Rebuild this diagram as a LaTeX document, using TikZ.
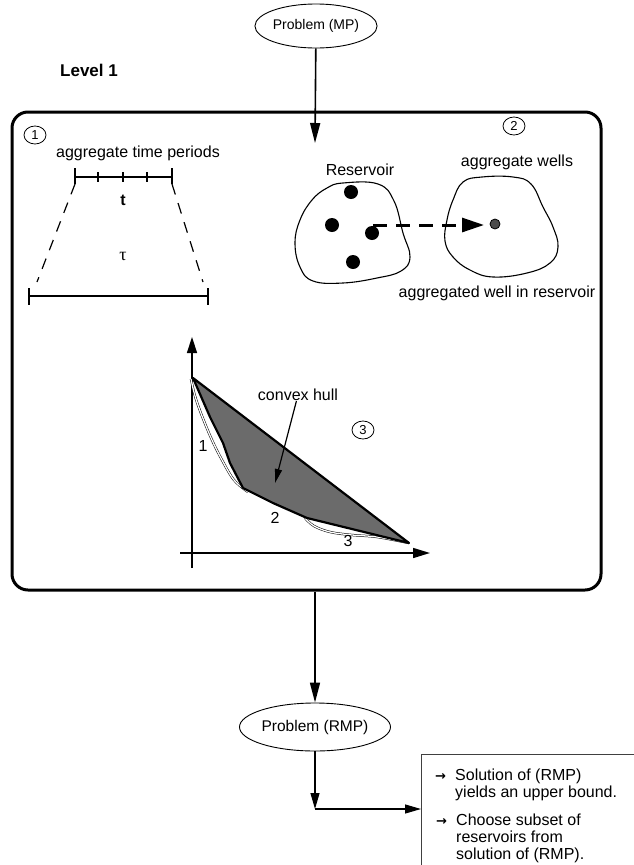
\documentclass[tikz,border=0pt]{standalone}
\usepackage{fontspec}
\setmainfont{Liberation Sans}
\newfontfamily\symf{DejaVu Sans}
\newfontfamily\serf{Liberation Serif}
\usetikzlibrary{arrows.meta,shapes.geometric}
\begin{document}
\begin{tikzpicture}[x=1pt,y=-1pt,
  lab/.style={font=\fontsize{16}{18}\selectfont, inner sep=0},
  num/.style={draw, ellipse, line width=0.8pt, minimum width=22pt, minimum height=18pt, inner sep=0, font=\fontsize{13}{14}\selectfont},
  prob/.style={draw, ellipse, line width=0.9pt, inner sep=0},
  bigarrow/.style={line width=1.6pt, -{Triangle[length=20pt,width=10pt]}},
  midarrow/.style={line width=1.2pt, -{Triangle[length=16pt,width=9pt]}},
  well/.style={circle, fill=black, minimum size=14pt, inner sep=0},
  bar/.style={line width=1.4pt},
  blob/.style={line width=1.1pt},
  itemtxt/.style={anchor=north west, align=left, inner sep=0, font=\fontsize{16}{17}\selectfont},
]
\useasboundingbox (0,0) rectangle (634,865);

% top problem
\node[prob, minimum width=112pt, minimum height=44pt, font=\fontsize{14}{16}\selectfont] (mp) at (316,26) {Problem (MP)};
\node[anchor=west, inner sep=0, font=\bfseries\fontsize{17}{19}\selectfont] (lvl) at (60,70) {Level 1};

% main box
\node[draw, line width=3pt, rounded corners=16pt, minimum width=589pt, minimum height=478pt, inner sep=0] (box) at (306.5,351) {};
\coordinate (a1) at (315,143);
\draw[bigarrow] (mp) -- (a1);

% part 1: time periods
\node[num] (n1) at (35,135) {1};
\node[lab] (atp) at (138,153) {aggregate time periods};
\coordinate (t0) at (75,177);
\coordinate (t4) at (172,177);
\draw[bar] (t0) -- (t4);
\draw[bar] (75,168) -- (75,184);
\draw[bar] (172,168) -- (172,184);
\foreach \x in {98,123,147} \draw[bar] (\x,172) -- (\x,182);
\node[lab, font=\bfseries\fontsize{16}{18}\selectfont] (tl) at (123,200) {t};
\coordinate (T0) at (29,296);
\coordinate (T1) at (208,296);
\draw[bar] (T0) -- (T1);
\draw[bar] (29,288) -- (29,305);
\draw[bar] (208,288) -- (208,305);
\draw[line width=1.2pt, dash pattern=on 11pt off 9pt] (75,184) -- (37,282);
\draw[line width=1.2pt, dash pattern=on 11pt off 9pt] (172,184) -- (203,282);
\node[lab, font=\serf\fontsize{18}{20}\selectfont] (tau) at (123,256) {τ};

% part 2: wells
\node[num] (n2) at (514,126) {2};
\node[lab] (res) at (360,170) {Reservoir};
\node[lab] (agw) at (517,162) {aggregate wells};
\draw[blob] plot[smooth cycle, tension=0.7] coordinates {(343,183) (378,184) (394,201) (403,233) (410,257) (401,271) (377,278) (343,283) (313,281) (300,267) (295,243) (300,220) (312,200) (327,188)};
\draw[blob] plot[smooth cycle, tension=0.7] coordinates {(463,182) (482,177) (513,177) (531,184) (543,207) (553,227) (558,247) (550,263) (527,273) (493,277) (470,270) (453,257) (445,241) (447,220) (453,200)};
\node[well] (w1) at (351,192) {};
\node[well] (w2) at (332,225) {};
\node[well] (w3) at (372,233) {};
\node[well] (w4) at (353,262) {};
\node[circle, draw=black, fill=black!70, minimum size=10pt, inner sep=0, line width=0.8pt] (wd) at (495,224) {};
\coordinate (ds) at (373,225);
\coordinate (de) at (484,225);
\draw[line width=3pt, dash pattern=on 14pt off 9pt, -{Triangle[length=22pt,width=14pt]}] (ds) -- (de);
\node[lab] (awr) at (497,293) {aggregated well in reservoir};

% part 3: convex hull graph
\draw[line width=1.5pt, -{Triangle[length=16pt,width=10pt]}] (192,568) -- (192,337);
\draw[line width=1.5pt, -{Triangle[length=17pt,width=10pt]}] (180,553) -- (430,553);
\draw[double=white, double distance=1.3pt, line width=0.5pt] plot[smooth, tension=0.6] coordinates {(191,379) (195,396) (202,416) (212,440) (222,460) (234,480) (248,492)};
\draw[double=white, double distance=1.3pt, line width=0.5pt] plot[smooth, tension=0.6] coordinates {(305,518) (314,526) (330,532) (352,535) (377,537) (409,543)};
\filldraw[fill=black!58, line width=2.2pt, line join=round] (193,378) -- (409,543) -- (307,518) -- (273,503) -- (243,488) -- (230,463) -- (223,443) -- (210,417) -- cycle;
\node[lab] (l1) at (203,446) {1};
\node[lab] (l2) at (275,518) {2};
\node[lab] (l3) at (348,541) {3};
\node[lab] (ch) at (298,395) {convex hull};
\coordinate (hp) at (275,483);
\draw[line width=1.2pt, -{Triangle[length=14pt,width=7pt]}] (ch) -- (hp);
\node[num] (n3) at (363,430) {3};

% lower part
\coordinate (b1) at (box.south -| a1);
\node[prob, minimum width=138pt, minimum height=48pt, font=\fontsize{15.5}{17}\selectfont] (rmp) at (315,727) {Problem (RMP)};
\draw[bigarrow] (b1) -- (rmp);
\coordinate (c1) at (315,809);
\coordinate (tbl) at (421,809);
\draw[midarrow] (rmp) -- (c1);
\draw[midarrow] (c1) -- (tbl);
\draw[line width=0.7pt, black!75] (421,865) -- (421,754) -- (634,754);
\node[itemtxt] (it1) at (435,769) {\makebox[20pt][l]{\symf\bfseries\fontsize{13}{14}\selectfont →}Solution of (RMP)\\\hspace*{20pt}yields an upper bound.};
\node[itemtxt] (it2) at (436,814) {\makebox[20pt][l]{\symf\bfseries\fontsize{13}{14}\selectfont →}Choose subset of\\\hspace*{20pt}reservoirs from\\\hspace*{20pt}solution of (RMP).};
\end{tikzpicture}
\end{document}
